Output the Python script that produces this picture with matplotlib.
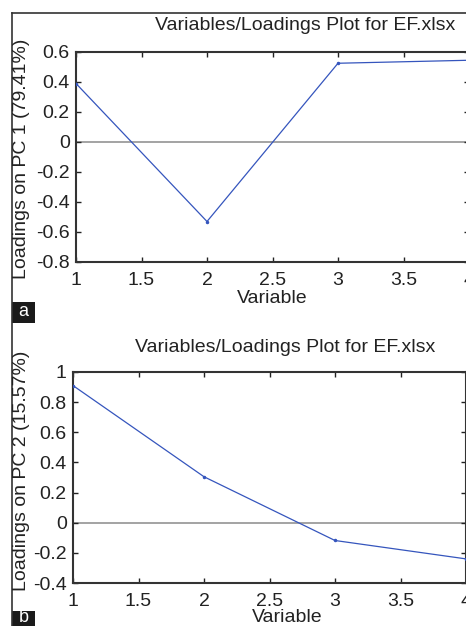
import matplotlib
matplotlib.use("Agg")
import matplotlib.pyplot as plt
from matplotlib.lines import Line2D
from matplotlib.patches import Rectangle

plt.rcParams['font.family'] = ['Liberation Sans', 'DejaVu Sans']

variables = [1, 2, 3, 4]
pc1_loadings = [0.39, -0.53, 0.525, 0.545]
pc2_loadings = [0.91, 0.305, -0.118, -0.24]
title_text = "Variables/Loadings Plot for EF.xlsx"
pc1_label = "Loadings on PC 1 (79.41%)"
pc2_label = "Loadings on PC 2 (15.57%)"
xticks = [1, 1.5, 2, 2.5, 3, 3.5, 4]
xtick_labels = ["1", "1.5", "2", "2.5", "3", "3.5", "4"]
yticks_a = [-0.8, -0.6, -0.4, -0.2, 0, 0.2, 0.4, 0.6]
ytick_labels_a = ["-0.8", "-0.6", "-0.4", "-0.2", "0", "0.2", "0.4", "0.6"]
yticks_b = [-0.4, -0.2, 0, 0.2, 0.4, 0.6, 0.8, 1]
ytick_labels_b = ["-0.4", "-0.2", "0", "0.2", "0.4", "0.6", "0.8", "1"]

W, H = 466, 626
fig = plt.figure(figsize=(W / 100, H / 100), dpi=100)
fig.patch.set_facecolor('white')

def px_axes(left, top, right, bottom):
    return fig.add_axes([left / W, 1 - bottom / H, (right - left) / W, (bottom - top) / H])

line_color = '#3555bd'
text_color = '#222222'
fs = 14

def style(ax, yticks, ylabels, ylim):
    ax.set_xlim(1, 4)
    ax.set_ylim(*ylim)
    ax.set_xticks(xticks)
    ax.set_xticklabels(xtick_labels)
    ax.set_yticks(yticks)
    ax.set_yticklabels(ylabels)
    ax.tick_params(direction='in', length=3.5, width=1, top=True, right=True,
                   labelsize=fs, colors=text_color)
    ax.tick_params(axis='x', pad=7)
    ax.tick_params(axis='y', pad=4.5)
    for sp in ax.spines.values():
        sp.set_linewidth(1.5)
        sp.set_color('#333333')
    ax.axhline(0, color='#8a8a8a', lw=1.1, zorder=1)

# panel a
ax1 = px_axes(76, 52, 469, 262)
ax1.plot(variables, pc1_loadings, color=line_color, lw=0.9, marker='.', ms=3, zorder=3)
style(ax1, yticks_a, ytick_labels_a, (-0.8, 0.6))

# panel b
ax2 = px_axes(73, 372, 466, 583)
ax2.plot(variables, pc2_loadings, color=line_color, lw=0.9, marker='.', ms=3, zorder=3)
style(ax2, yticks_b, ytick_labels_b, (-0.4, 1))

def ftext(x, y, s, **kw):
    fig.text(x / W, 1 - y / H, s, **kw)

ftext(305, 25, title_text, ha='center', va='center', fontsize=fs, color=text_color)
ftext(272, 298, "Variable", ha='center', va='center', fontsize=fs, color=text_color)
ftext(22, 159, pc1_label, ha='center', va='center', rotation=90, fontsize=fs, color=text_color)

ftext(285, 347, title_text, ha='center', va='center', fontsize=fs, color=text_color)
ftext(287, 617, "Variable", ha='center', va='center', fontsize=fs, color=text_color)
ftext(22, 471, pc2_label, ha='center', va='center', rotation=90, fontsize=fs, color=text_color)

# frame lines
fig.add_artist(Line2D([12 / W, 12 / W], [0, 1 - 13 / H], transform=fig.transFigure,
                      color='#333333', lw=1.2))
fig.add_artist(Line2D([12 / W, 1], [1 - 13 / H, 1 - 13 / H], transform=fig.transFigure,
                      color='#333333', lw=1.2))

# panel letters
fig.add_artist(Rectangle((12 / W, 1 - 323 / H), 23 / W, 21 / H, transform=fig.transFigure,
                         facecolor='#1a1a1a', edgecolor='none'))
ftext(23.5, 312, "a", ha='center', va='center', fontsize=13, color='white')
fig.add_artist(Rectangle((12 / W, 0), 23 / W, 15 / H, transform=fig.transFigure,
                         facecolor='#1a1a1a', edgecolor='none'))
ftext(23.5, 618, "b", ha='center', va='center', fontsize=13, color='white')

fig.savefig("out.png", dpi=100)
